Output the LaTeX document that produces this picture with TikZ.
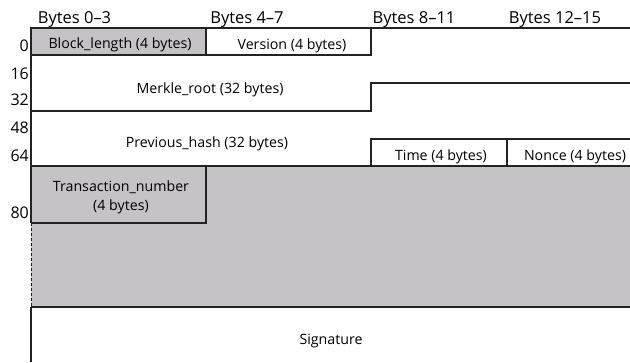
\documentclass[tikz,border=0pt]{standalone}
\usepackage{fontspec}
\setmainfont{Open Sans}
\usepackage{xcolor}
\usetikzlibrary{positioning}
\definecolor{fieldgray}{RGB}{197,195,198}
\definecolor{rulegray}{RGB}{35,35,35}

\begin{document}
\begin{tikzpicture}[
    x=1pt, y=-1pt,
    rule/.style={draw=rulegray, line width=1.3pt},
    field/.style={font=\fontsize{14.2}{19}\selectfont, align=center, inner sep=0pt},
    header/.style={font=\fontsize{16.5}{18}\selectfont, anchor=base, inner sep=0pt},
    offset/.style={font=\fontsize{16}{18}\selectfont, anchor=base east, inner sep=0pt}
]
    \useasboundingbox (0,0) rectangle (630,362);

    % Shaded areas
    \fill[fieldgray] (31,166) rectangle (632,307);
    \fill[fieldgray] (31,28) rectangle (206,55);

    % Field borders
    \draw[rule] (31,28) -- (632,28);
    \draw[rule] (31,55) -- (371,55) -- (371,28);
    \draw[rule] (206,28) -- (206,55);
    \draw[rule] (31,111) -- (371,111) -- (371,83) -- (632,83);
    \draw[rule] (371,166) -- (371,139) -- (632,139);
    \draw[rule] (507,139) -- (507,166);
    \draw[rule] (31,166) -- (632,166);
    \draw[rule] (31,223) -- (206,223) -- (206,166);
    \draw[rule] (31,307) -- (632,307);
    \draw[rule] (31,27.35) -- (31,223);
    \draw[rule, line width=1pt, dash pattern=on 3pt off 2pt] (31,223) -- (31,307);
    \draw[rule] (31,307) -- (31,362);

    % Column headers
    \node[header] (hdrA) at (74.5,23) {Bytes 0–3};
    \node[header] (hdrB) at (247,23) {Bytes 4–7};
    \node[header] (hdrC) at (414,23) {Bytes 8–11};
    \node[header] (hdrD) at (555,23) {Bytes 12–15};

    % Byte offsets
    \node[offset] (off0) at (29,51) {0};
    \node[offset] (off16) at (29,79) {16};
    \node[offset] (off32) at (29,105) {32};
    \node[offset] (off48) at (29,133) {48};
    \node[offset] (off64) at (29,161) {64};
    \node[offset] (off80) at (29,218) {80};

    % Field names
    \node[field, anchor=base] (blocklen) at (120,48) {Block\_length (4 bytes)};
    \node[field, anchor=base] (version) at (292,49) {Version (4 bytes)};
    \node[field, anchor=base] (merkle) at (210,93) {Merkle\_root (32 bytes)};
    \node[field, anchor=base] (prevhash) at (207,147) {Previous\_hash (32 bytes)};
    \node[field, anchor=base] (time) at (441,160) {Time (4 bytes)};
    \node[field, anchor=base] (nonce) at (575,160) {Nonce (4 bytes)};
    \node[field] (txnum) at (121,197) {Transaction\_number\\(4 bytes)};
    \node[field, anchor=base] (signature) at (331,344) {Signature};
\end{tikzpicture}
\end{document}
